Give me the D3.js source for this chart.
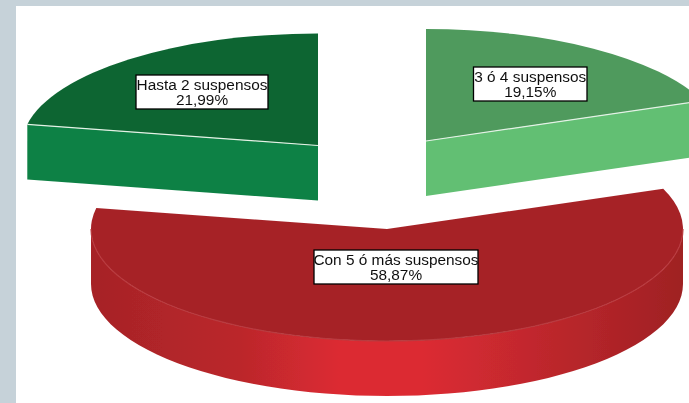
<!DOCTYPE html>
<html>
<head>
<meta charset="utf-8">
<script src="https://cdn.jsdelivr.net/npm/d3@7"></script>
<style>
  html, body { margin: 0; padding: 0; background: #c6d2d9; overflow: hidden; }
  svg { display: block; }
  text { font-family: "Liberation Sans", Arial, sans-serif; font-size: 15.4px; fill: #111; }
</style>
</head>
<body>
<div id="chart"></div>
<script>
// data, clockwise from 12 o'clock
const categories = ['3 ó 4 suspensos', 'Con 5 ó más suspensos', 'Hasta 2 suspensos'];
const percents = [19.15, 58.87, 21.99];
const percentLabels = ['19,15%', '58,87%', '21,99%'];

// chart size
const width = 689, height = 403;
const panel = {left: 16, top: 6};
const rx = 296, ry = 112, depth = 55;

// where each exploded slice has its tip, plus colours and the label box
const slices = [
  {cx: 426, cy: 141, top: '#4f9a5d', side: '#62bf73', edge: '#e4f2e6', boxX: 473.5, boxY: 67, boxW: 113.5, boxH: 34},
  {cx: 387, cy: 229, top: '#a62328', side: 'url(#redSide)', edge: '#b93b3f', boxX: 314, boxY: 250, boxW: 164, boxH: 34},
  {cx: 318, cy: 145.5, top: '#0b6531', side: '#0f8145', edge: '#e4f2e6', boxX: 136, boxY: 75, boxW: 132, boxH: 34}
];

const svg = d3.select('#chart').append('svg')
  .attr('width', width)
  .attr('height', height);

svg.append('rect')
  .attr('x', panel.left)
  .attr('y', panel.top)
  .attr('width', width - panel.left)
  .attr('height', height - panel.top)
  .attr('fill', '#fff');

const defs = svg.append('defs');

// the source picture is a soft jpeg
defs.append('filter')
  .attr('id', 'soft')
  .append('feGaussianBlur')
  .attr('stdDeviation', 0.45);

// shading of the red outer wall, brightest at the front
const grad = defs.append('linearGradient')
  .attr('id', 'redSide')
  .attr('gradientUnits', 'userSpaceOnUse')
  .attr('x1', 91).attr('x2', 683).attr('y1', 0).attr('y2', 0);
[[0, '#a62327'], [0.25, '#bb272b'], [0.42, '#dc2b33'], [0.56, '#dc2b33'], [0.78, '#bc272c'], [1, '#9f2023']]
  .forEach(function(s) {
    grad.append('stop').attr('offset', s[0]).attr('stop-color', s[1]);
  });

const pie = d3.pie().sort(null)(percents);
const arc = d3.arc().innerRadius(0).outerRadius(rx);

// point on the rim of a slice, lowered by dy
function rim(s, a, dy) {
  return [s.cx + rx * Math.sin(a), s.cy - ry * Math.cos(a) + dy];
}
const line = d3.line();

function wallPath(s, d) {
  // green slices only show a cut face, the red one its round front
  let from = Math.max(d.startAngle, Math.PI / 2);
  let to = Math.min(d.endAngle, Math.PI * 1.5);
  if (from >= to) {
    const a = d.startAngle > Math.PI ? d.startAngle : d.endAngle;
    return line([[s.cx, s.cy], rim(s, a, 0), rim(s, a, depth), [s.cx, s.cy + depth]]) + 'Z';
  }
  const angles = d3.range(0, 61).map(function(i) { return from + (to - from) * i / 60; });
  const upper = angles.map(function(a) { return rim(s, a, 0); });
  const lower = angles.map(function(a) { return rim(s, a, depth); }).reverse();
  return line(upper.concat(lower)) + 'Z';
}

function edgePath(s, d) {
  let from = Math.max(d.startAngle, Math.PI / 2);
  let to = Math.min(d.endAngle, Math.PI * 1.5);
  if (from >= to) {
    const a = d.startAngle > Math.PI ? d.startAngle : d.endAngle;
    return line([[s.cx, s.cy], rim(s, a, 0)]);
  }
  return line(d3.range(0, 61).map(function(i) { return rim(s, from + (to - from) * i / 60, 0); }));
}

const g = svg.selectAll('g.slice')
  .data(pie)
  .enter().append('g')
  .attr('class', 'slice')
  .attr('filter', 'url(#soft)');

g.append('path')
  .attr('d', function(d, i) { return wallPath(slices[i], d); })
  .attr('fill', function(d, i) { return slices[i].side; });

g.append('path')
  .attr('d', function(d) { return arc(d); })
  .attr('transform', function(d, i) {
    return 'translate(' + slices[i].cx + ',' + slices[i].cy + ') scale(1,' + (ry / rx) + ')';
  })
  .attr('fill', function(d, i) { return slices[i].top; });

g.append('path')
  .attr('d', function(d, i) { return edgePath(slices[i], d); })
  .attr('fill', 'none')
  .attr('stroke', function(d, i) { return slices[i].edge; })
  .attr('stroke-width', 1.2);

// label boxes
const lab = svg.selectAll('g.label')
  .data(categories)
  .enter().append('g')
  .attr('class', 'label')
  .attr('filter', 'url(#soft)');

lab.append('rect')
  .attr('x', function(d, i) { return slices[i].boxX; })
  .attr('y', function(d, i) { return slices[i].boxY; })
  .attr('width', function(d, i) { return slices[i].boxW; })
  .attr('height', function(d, i) { return slices[i].boxH; })
  .attr('fill', '#fff')
  .attr('stroke', '#000')
  .attr('stroke-width', 1.3);

lab.append('text')
  .attr('x', function(d, i) { return slices[i].boxX + slices[i].boxW / 2; })
  .attr('y', function(d, i) { return slices[i].boxY + 14.7; })
  .attr('text-anchor', 'middle')
  .text(function(d) { return d; });

lab.append('text')
  .attr('x', function(d, i) { return slices[i].boxX + slices[i].boxW / 2; })
  .attr('y', function(d, i) { return slices[i].boxY + 30.3; })
  .attr('text-anchor', 'middle')
  .text(function(d, i) { return percentLabels[i]; });
</script>
</body>
</html>
